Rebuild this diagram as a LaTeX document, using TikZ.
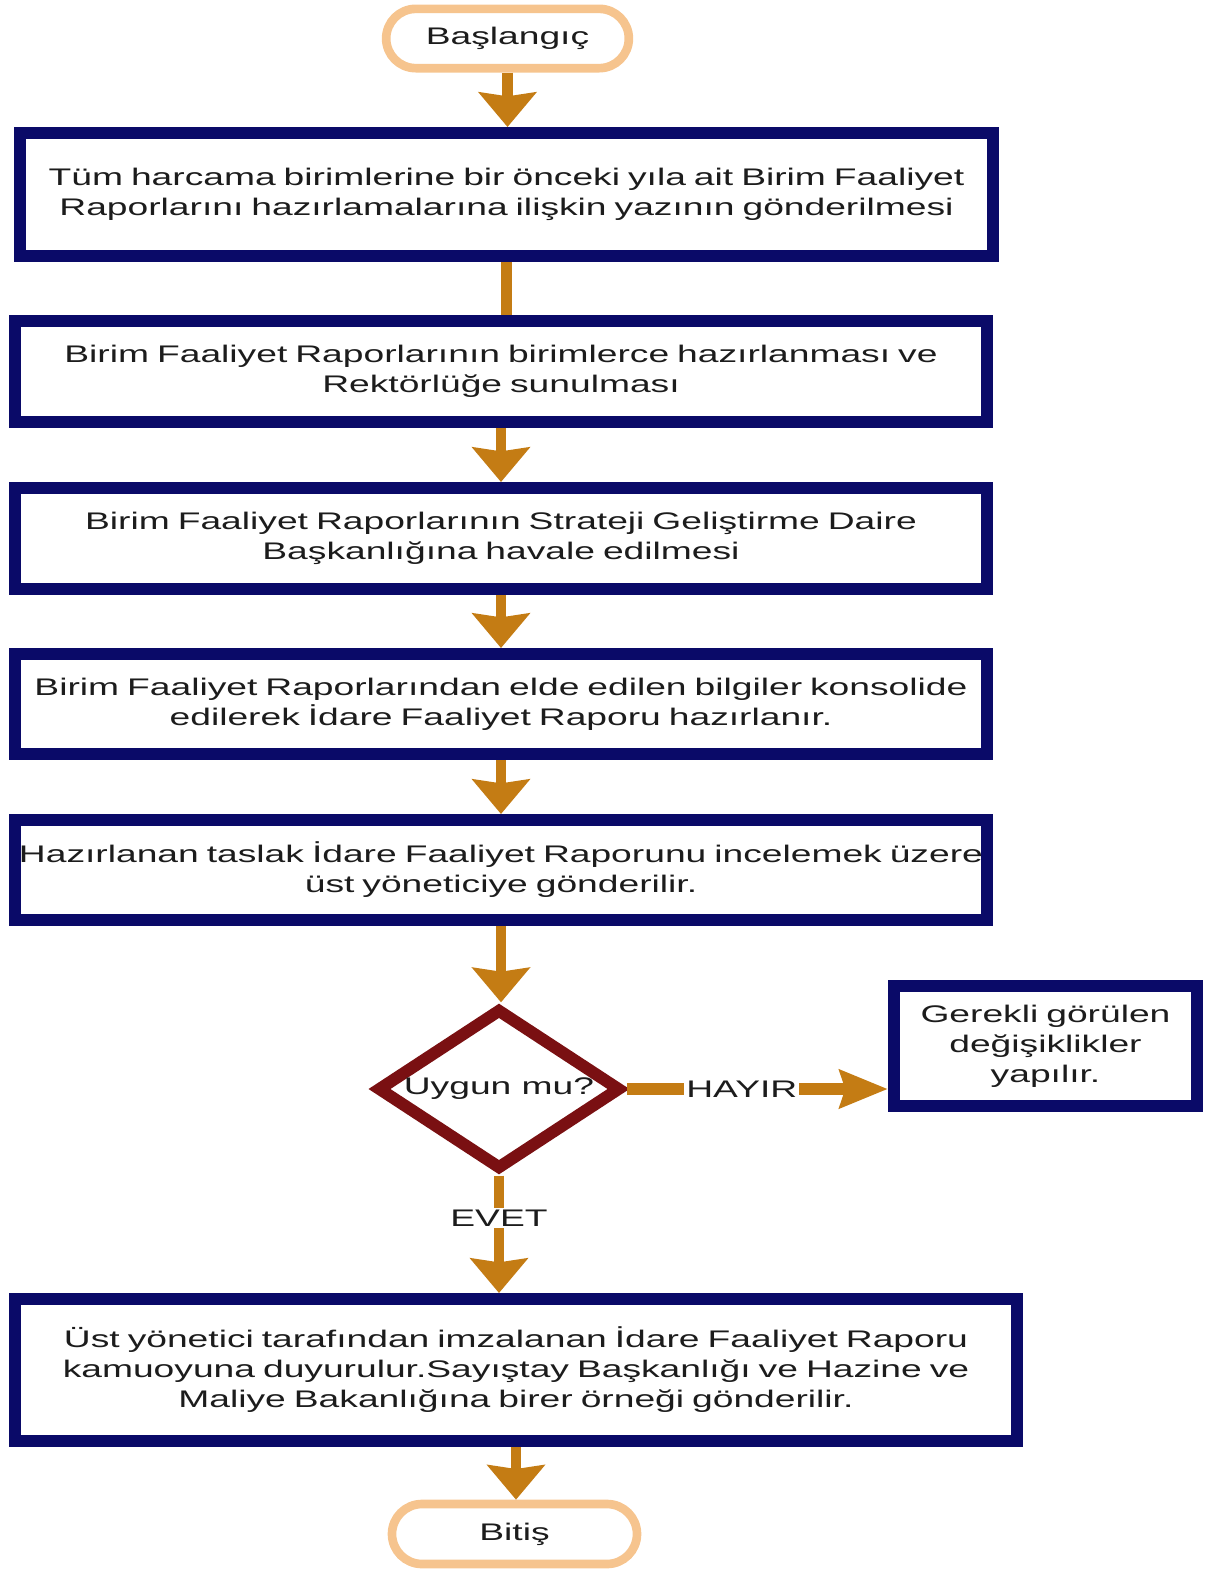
\documentclass[tikz,border=0pt]{standalone}
\usepackage{fontspec}
\setmainfont{Liberation Sans}[FakeStretch=1.55]
\usetikzlibrary{shapes.geometric,shapes.misc,arrows.meta}

\tikzset{every picture/.style={line width=0.75pt}}
\tikzset{
  flowtext/.style={font=\fontsize{18}{22.5}\selectfont, text={rgb, 255:red, 28; green, 28; blue, 28 }},
  terminal/.style={rounded rectangle, draw={rgb, 255:red, 246; green, 196; blue, 142 }, line width=6.5pt, fill=white, inner sep=0pt, minimum width=182pt, minimum height=44.5pt, flowtext},
  procbox/.style={rectangle, draw={rgb, 255:red, 10; green, 10; blue, 104 }, line width=9pt, fill=white, inner sep=0pt, align=center, flowtext},
  decision/.style={diamond, aspect=1.5, draw={rgb, 255:red, 122; green, 16; blue, 18 }, line width=9pt, fill=white, inner sep=0pt, minimum width=183pt, minimum height=121pt, flowtext},
  flowline/.style={draw={rgb, 255:red, 196; green, 124; blue, 20 }, line width=8pt},
  flowarrow/.style={flowline, -{Stealth[width=43pt,length=26pt,inset=3pt]}},
  sidearrow/.style={flowline, line width=8.5pt, -{Stealth[width=28pt,length=36pt,inset=4pt]}},
  edgelabel/.style={fill=white, inner sep=1.5pt, flowtext}
}

\begin{document}
\begin{tikzpicture}[x=0.75pt,y=0.75pt,yscale=-1,xscale=1]
%set diagram left start at 0, and has height of 1571
\useasboundingbox (0,0) rectangle (1205,1571);

%Shape: Start
\node [terminal] (start) at (507.5,38.5) {Başlangıç};

%Shape: Rectangle [id:box1]
\node [procbox, text width=729.75pt, minimum height=92.25pt] (box1) at (506.5,194.5) {Tüm harcama birimlerine bir önceki yıla ait Birim Faaliyet\\ Raporlarını hazırlamalarına ilişkin yazının gönderilmesi};
%Shape: Rectangle [id:box2]
\node [procbox, text width=729pt, minimum height=75.75pt] (box2) at (501,371.5) {Birim Faaliyet Raporlarının birimlerce hazırlanması ve\\ Rektörlüğe sunulması};
%Shape: Rectangle [id:box3]
\node [procbox, text width=729pt, minimum height=75.75pt] (box3) at (501,538.5) {Birim Faaliyet Raporlarının Strateji Geliştirme Daire\\ Başkanlığına havale edilmesi};
%Shape: Rectangle [id:box4]
\node [procbox, text width=729pt, minimum height=75pt] (box4) at (501,704) {Birim Faaliyet Raporlarından elde edilen bilgiler konsolide\\ edilerek İdare Faaliyet Raporu hazırlanır.};
%Shape: Rectangle [id:box5]
\node [procbox, text width=729pt, minimum height=75pt] (box5) at (501,870) {Hazırlanan taslak İdare Faaliyet Raporunu incelemek üzere\\ üst yöneticiye gönderilir.};

%Shape: Diamond [id:check]
\node [decision] (check) at (499,1089) {Uygun mu?};

%Shape: Rectangle [id:fix]
\node [procbox, text width=227.25pt, minimum height=90pt] (fix) at (1045.5,1046) {Gerekli görülen\\ değişiklikler\\ yapılır.};

%Shape: Rectangle [id:final]
\node [procbox, text width=751.5pt, minimum height=106.5pt] (final) at (516,1370) {Üst yönetici tarafından imzalanan İdare Faaliyet Raporu\\ kamuoyuna duyurulur.Sayıştay Başkanlığı ve Hazine ve\\ Maliye Bakanlığına birer örneği gönderilir.};

%Shape: End
\node [terminal, minimum width=183.75pt, minimum height=45pt] (stop) at (514.5,1534) {Bitiş};

%Straight Lines
\draw [flowarrow] (start.south) -- (start.south |- box1.north);
\draw [flowline] (box1.south) -- (box1.south |- box2.north);
\draw [flowarrow] (box2.south) -- (box2.south |- box3.north);
\draw [flowarrow] (box3.south) -- (box3.south |- box4.north);
\draw [flowarrow] (box4.south) -- (box4.south |- box5.north);
\draw [flowarrow] (box5.south) -- (box5.south |- check.north);
\draw [sidearrow] (check.east) -- node [edgelabel, pos=0.44] {HAYIR} (check.east -| fix.west);
\draw [flowarrow] (check.south) -- node [edgelabel, pos=0.36] {EVET} (check.south |- final.north);
\draw [flowarrow] (final.south) -- (final.south |- stop.north);

\end{tikzpicture}
\end{document}
